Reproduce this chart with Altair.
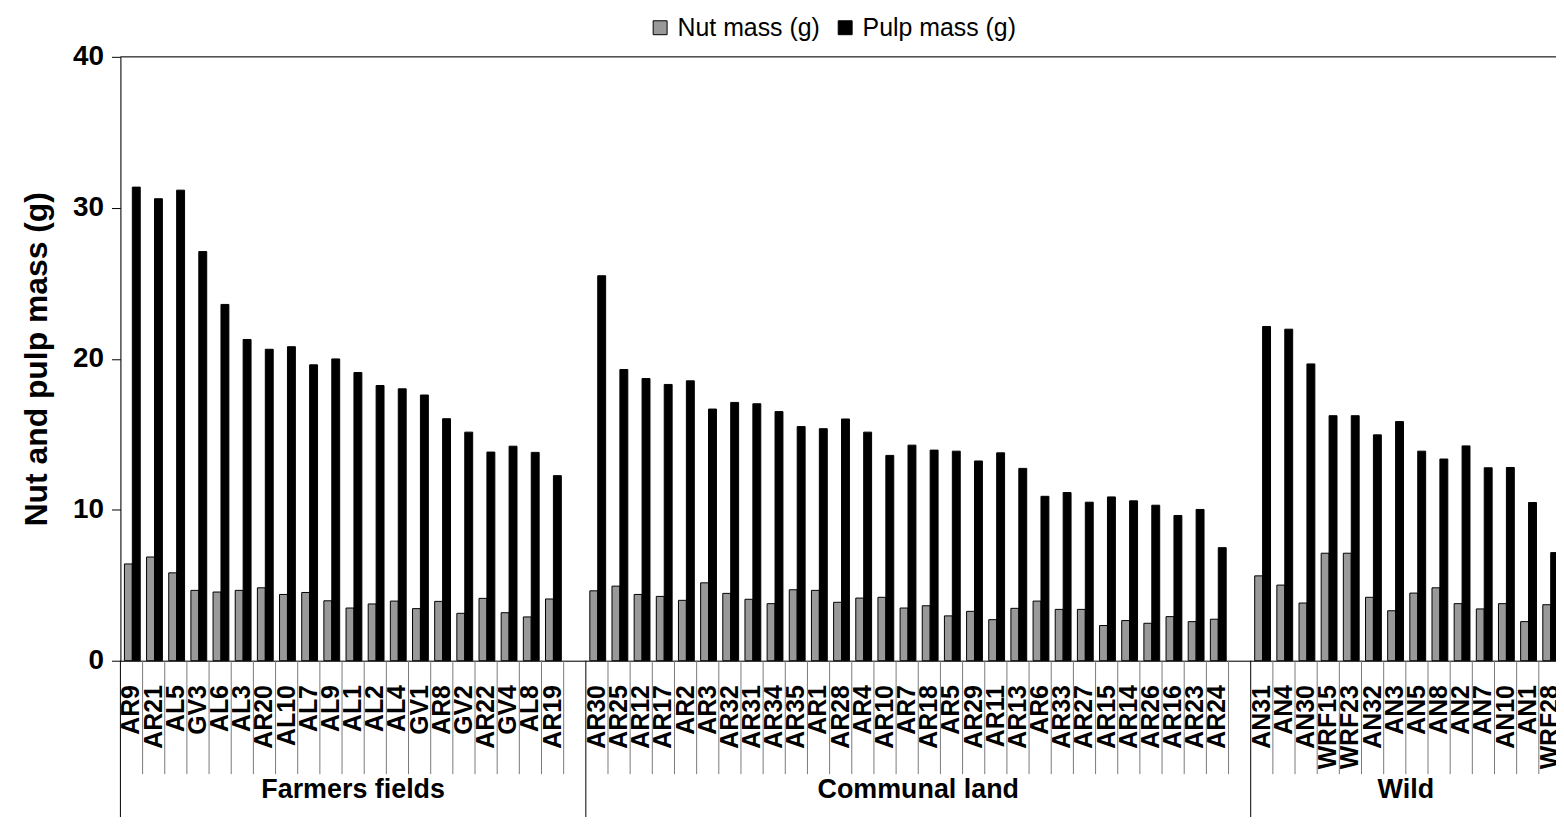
import altair as alt
import pandas as pd

# ---------------- data ----------------
farm_cats = ["AR9", "AR21", "AL5", "GV3", "AL6", "AL3", "AR20", "AL10", "AL7", "AL9",
             "AL1", "AL2", "AL4", "GV1", "AR8", "GV2", "AR22", "GV4", "AL8", "AR19"]
farm_nut = [6.41, 6.87, 5.82, 4.66, 4.55, 4.66, 4.83, 4.39, 4.52, 3.97,
            3.49, 3.76, 3.95, 3.45, 3.93, 3.14, 4.13, 3.18, 2.90, 4.09]
farm_pulp = [31.37, 30.60, 31.17, 27.10, 23.60, 21.28, 20.63, 20.80, 19.60, 19.99,
             19.09, 18.23, 18.01, 17.60, 16.03, 15.14, 13.82, 14.21, 13.80, 12.26]

comm_cats = ["AR30", "AR25", "AR12", "AR17", "AR2", "AR3", "AR32", "AR31", "AR34", "AR35",
             "AR1", "AR28", "AR4", "AR10", "AR7", "AR18", "AR5", "AR29", "AR11", "AR13",
             "AR6", "AR33", "AR27", "AR15", "AR14", "AR26", "AR16", "AR23", "AR24"]
comm_nut = [4.63, 4.94, 4.39, 4.26, 4.00, 5.16, 4.46, 4.07, 3.78, 4.70,
            4.66, 3.87, 4.15, 4.20, 3.49, 3.64, 2.97, 3.27, 2.72, 3.47,
            3.95, 3.40, 3.40, 2.33, 2.66, 2.48, 2.92, 2.59, 2.75]
comm_pulp = [25.50, 19.29, 18.69, 18.30, 18.54, 16.67, 17.11, 17.02, 16.50, 15.51,
             15.37, 16.01, 15.14, 13.60, 14.28, 13.95, 13.88, 13.23, 13.77, 12.74,
             10.89, 11.14, 10.50, 10.85, 10.59, 10.30, 9.62, 10.02, 7.49]

wild_cats = ["AN31", "AN4", "AN30", "WRF15", "WRF23", "AN32", "AN3", "AN5", "AN8", "AN2",
             "AN7", "AN10", "AN1", "WRF28"]
wild_nut = [5.62, 5.01, 3.82, 7.12, 7.12, 4.20, 3.31, 4.48, 4.83, 3.78,
            3.43, 3.78, 2.59, 3.71]
wild_pulp = [22.14, 21.96, 19.66, 16.23, 16.23, 14.96, 15.84, 13.88, 13.36, 14.23,
             12.78, 12.80, 10.48, 7.16]

group_names = ["Farmers fields", "Communal land", "Wild"]
series_names = ["Nut mass (g)", "Pulp mass (g)"]
series_colors = ["#999999", "#000000"]
y_ticks = [0, 10, 20, 30, 40]

gap1, gap2 = " ", "  "
domain = farm_cats + [gap1] + comm_cats + [gap2] + wild_cats

rows = []
for cats, nut, pulp in [(farm_cats, farm_nut, farm_pulp),
                        (comm_cats, comm_nut, comm_pulp),
                        (wild_cats, wild_nut, wild_pulp)]:
    for c, n, p in zip(cats, nut, pulp):
        rows.append({"cat": c, "series": series_names[0], "value": n})
        rows.append({"cat": c, "series": series_names[1], "value": p})
bars_df = pd.DataFrame(rows)

group_starts = [farm_cats[0], comm_cats[0], wild_cats[0]]
sep_long = pd.DataFrame({"cat": group_starts})
sep_short = pd.DataFrame({"cat": [c for c in domain if c not in group_starts]})
top_df = pd.DataFrame({"v": [40]})
lab_mid = pd.DataFrame({"cat": ["AL1"], "label": [group_names[0]]})
lab_edge = pd.DataFrame({"cat": ["AR18", "AN5"], "label": group_names[1:]})

# ---------------- layout ----------------
FONT = "Liberation Sans"
PLOT_W = 1443
PLOT_H = 607
X_RANGE = 1448

xscale = alt.Scale(domain=domain, range=[0, X_RANGE], paddingInner=0, paddingOuter=0)
yscale = alt.Scale(domain=[0, 40], nice=False, zero=True)

x_axis = alt.Axis(title=None, labelAngle=-90, labelAlign="right", labelBaseline="middle",
                  labelFont=FONT, labelFontSize=25, labelFontWeight="bold", labelColor="black",
                  labelPadding=24, labelOverlap=False, ticks=False, tickSize=0,
                  domain=True, domainColor="black", domainWidth=1, grid=False, labelLimit=300)
y_axis = alt.Axis(title="Nut and pulp mass (g)", values=y_ticks, grid=False,
                  labelFont=FONT, labelFontSize=28, labelFontWeight="bold", labelColor="black",
                  labelPadding=8, tickSize=9, tickColor="black", tickWidth=1,
                  domainColor="black", domainWidth=1,
                  titleFont=FONT, titleFontSize=32, titleFontWeight="bold", titleColor="black",
                  titleAngle=-90, titleAlign="center", titleBaseline="middle",
                  titleX=-84, titleY=PLOT_H / 2)


def xenc(band_pos=None):
    if band_pos is None:
        return alt.X("cat:N", scale=xscale, axis=x_axis, title=None)
    return alt.X("cat:N", scale=xscale, axis=x_axis, title=None, bandPosition=band_pos)


bars = alt.Chart(bars_df).mark_bar(stroke="black", strokeWidth=1).encode(
    x=xenc(),
    xOffset=alt.XOffset("series:N",
                        scale=alt.Scale(domain=series_names, paddingInner=0,
                                        paddingOuter=0.4, align=0.63)),
    y=alt.Y("value:Q", scale=yscale, axis=y_axis),
    color=alt.Color("series:N",
                    scale=alt.Scale(domain=series_names, range=series_colors),
                    legend=alt.Legend(title=None, orient="none", direction="horizontal",
                                      legendX=530, legendY=-42, padding=0,
                                      symbolType="square", symbolSize=196,
                                      symbolStrokeColor="black", symbolStrokeWidth=1,
                                      labelFont=FONT, labelFontSize=25, labelColor="black",
                                      labelOffset=5, columnPadding=12)),
)

top_rule = alt.Chart(top_df).mark_rule(color="black", strokeWidth=1).encode(
    y=alt.Y("v:Q", scale=yscale, axis=y_axis),
    x=alt.value(0), x2=alt.value(X_RANGE),
)

short_rules = alt.Chart(sep_short).mark_rule(color="#7a7a7a", strokeWidth=1).encode(
    x=xenc(0), y=alt.value(PLOT_H), y2=alt.value(PLOT_H + 114),
)
long_rules = alt.Chart(sep_long).mark_rule(color="black", strokeWidth=1).encode(
    x=xenc(0), y=alt.value(PLOT_H), y2=alt.value(PLOT_H + 190),
)

text_props = dict(font=FONT, fontSize=27, fontWeight="bold", color="black",
                  align="center", baseline="middle")
glab_mid = alt.Chart(lab_mid).mark_text(**text_props).encode(
    x=xenc(0.5), y=alt.value(PLOT_H + 130), text="label:N",
)
glab_edge = alt.Chart(lab_edge).mark_text(**text_props).encode(
    x=xenc(0), y=alt.value(PLOT_H + 130), text="label:N",
)

chart = alt.layer(short_rules, long_rules, top_rule, bars, glab_mid, glab_edge).properties(
    width=PLOT_W, height=PLOT_H,
    autosize=alt.AutoSizeParams(type="none"),
    padding={"left": 113, "top": 47, "right": 0, "bottom": 155},
).configure_view(stroke=None).configure(background="white")

chart.save("out.html", embed_options={"renderer": "svg", "actions": False})
